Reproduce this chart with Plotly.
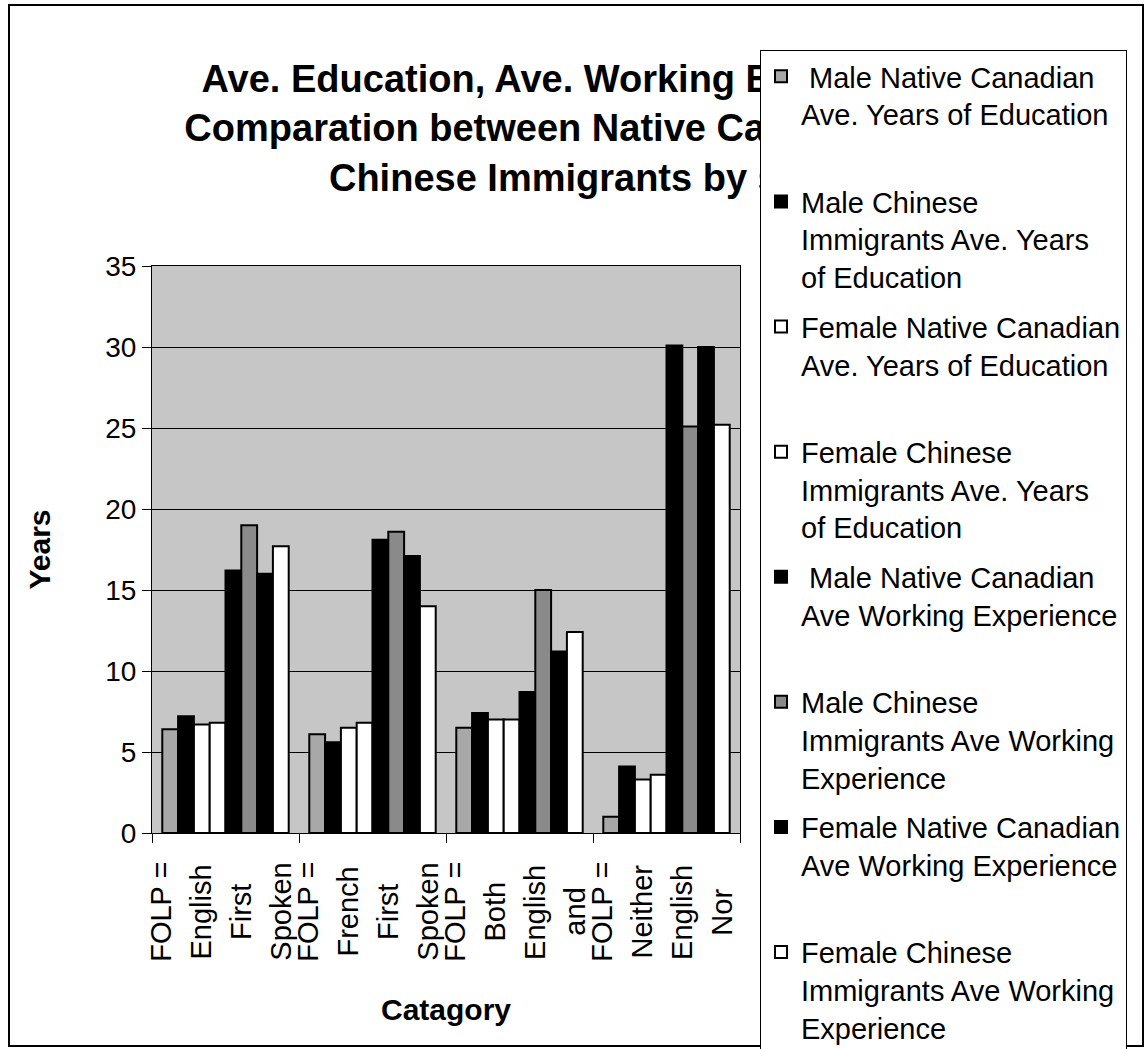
import plotly.graph_objects as go

# ---- data ----
categories = ["FOLP = English First Spoken", "FOLP = French First Spoken",
              "FOLP = Both English and", "FOLP = Neither English Nor"]
label_lines = [["FOLP =", "English", "First", "Spoken"],
               ["FOLP =", "French", "First", "Spoken"],
               ["FOLP =", "Both", "English", "and"],
               ["FOLP =", "Neither", "English", "Nor"]]

series_names = [
    " Male Native Canadian<br>Ave. Years of Education<br> ",
    "Male Chinese<br>Immigrants Ave. Years<br>of Education",
    "Female Native Canadian<br>Ave. Years of Education<br> ",
    "Female Chinese<br>Immigrants Ave. Years<br>of Education",
    " Male Native Canadian<br>Ave Working Experience<br> ",
    "Male Chinese<br>Immigrants Ave Working<br>Experience",
    "Female Native Canadian<br>Ave Working Experience<br> ",
    "Female Chinese<br>Immigrants Ave Working<br>Experience",
]
male_native_edu = [6.4, 6.1, 6.5, 1.0]
male_chinese_edu = [7.2, 5.6, 7.4, 4.1]
female_native_edu = [6.7, 6.5, 7.0, 3.3]
female_chinese_edu = [6.8, 6.8, 7.0, 3.6]
male_native_exp = [16.2, 18.1, 8.7, 30.1]
male_chinese_exp = [19.0, 18.6, 15.0, 25.1]
female_native_exp = [16.0, 17.1, 11.2, 30.0]
female_chinese_exp = [17.7, 14.0, 12.4, 25.2]
series_values = [male_native_edu, male_chinese_edu, female_native_edu, female_chinese_edu,
                 male_native_exp, male_chinese_exp, female_native_exp, female_chinese_exp]
series_colors = ["#a8a8a8", "#000000", "#ffffff", "#ffffff",
                 "#000000", "#8a8a8a", "#000000", "#ffffff"]

y_ticks = [0, 5, 10, 15, 20, 25, 30, 35]

FONT = "Liberation Sans, Arial, Helvetica, sans-serif"
W, H = 1147, 1049
L, R, T, B = 152, 407, 266, 216
pw, ph = W - L - R, H - T - B

xpos = list(range(len(categories)))

fig = go.Figure()
for i, (name, vals, col) in enumerate(zip(series_names, series_values, series_colors)):
    fig.add_trace(go.Bar(
        x=xpos, y=vals, name=name, legendgroup=f"g{i}",
        marker=dict(color=col, line=dict(color="black", width=2)),
    ))

# category label lines (rotated text under each group)
line_offsets = [-0.44, -0.17, 0.105, 0.375]
annotations = []
for ci, lines in enumerate(label_lines):
    for off, txt in zip(line_offsets, lines):
        annotations.append(dict(
            x=ci + off, xref="x", y=-(912 - 833) / ph, yref="paper",
            text=txt, showarrow=False, textangle=-90,
            font=dict(family=FONT, size=29, color="black"),
            xanchor="center", yanchor="middle"))

fig.update_layout(
    width=W, height=H,
    margin=dict(l=L, r=R, t=T, b=B, autoexpand=False),
    paper_bgcolor="white", plot_bgcolor="#c6c6c6",
    font=dict(family=FONT, color="black"),
    barmode="group", bargap=0.14, bargroupgap=0,
    title=dict(
        text="<b>Ave. Education, Ave. Working Experience<br>Comparation between Native Canadian and<br>Chinese Immigrants by sex</b>",
        x=575 / W, xref="container", xanchor="center",
        y=1 - 92 / H, yref="container", yanchor="top",
        font=dict(family=FONT, size=38, color="black")),
    legend=dict(
        xref="container", yref="container",
        x=760 / W, y=1 - 50 / H, xanchor="left", yanchor="top",
        bgcolor="white", bordercolor="black", borderwidth=1,
        font=dict(family=FONT, size=29, color="black"),
        valign="top", tracegroupgap=9, itemwidth=30, maxheight=1200),
    xaxis=dict(
        range=[-0.5, 3.5], showticklabels=False, ticks="",
        showline=True, linecolor="black", linewidth=1, mirror=True,
        showgrid=False, zeroline=False,
        minor=dict(tickvals=[-0.5, 0.5, 1.5, 2.5, 3.5], ticks="outside",
                   ticklen=9, tickcolor="black", showgrid=False),
        title=dict(text="<b>Catagory</b>", standoff=165,
                   font=dict(family=FONT, size=30, color="black"))),
    yaxis=dict(
        range=[0, 35], tickvals=y_ticks, ticks="outside", ticklen=9,
        tickcolor="black", tickfont=dict(family=FONT, size=28, color="black"),
        showline=True, linecolor="black", linewidth=1, mirror=True,
        showgrid=True, gridcolor="black", gridwidth=1, zeroline=False,
        title=dict(text="<b>Years</b>", standoff=45,
                   font=dict(family=FONT, size=30, color="black"))),
    annotations=annotations,
    shapes=[dict(type="rect", xref="paper", yref="paper",
                 x0=(9 - L) / pw, x1=(1143 - L) / pw,
                 y0=(833 - 1046) / ph, y1=(833 - 5) / ph,
                 line=dict(color="black", width=2), fillcolor="rgba(0,0,0,0)",
                 layer="above")],
    showlegend=True,
)

# the legend box sits over the chart title, as in the original chart
post = """
var gd = document.getElementById('{plot_id}');
function legendOnTop() {
  var il = gd.querySelector('.infolayer');
  var lg = il && il.querySelector('.legend');
  if (lg) { il.appendChild(lg); }
}
legendOnTop();
setTimeout(legendOnTop, 0);
setTimeout(legendOnTop, 300);
"""

fig.write_html("out.html", post_script=post)
